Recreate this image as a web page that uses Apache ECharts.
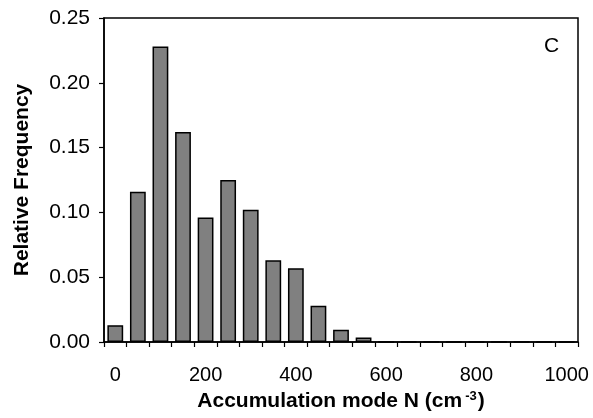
<!DOCTYPE html>
<html>
<head>
<meta charset="utf-8">
<script src="https://cdn.jsdelivr.net/npm/echarts@6/dist/echarts.min.js"></script>
<style>
  html, body { margin: 0; padding: 0; background: #fff; }
  #chart { width: 593px; height: 418px; }
</style>
</head>
<body>
<div id="chart"></div>
<script>
// Histogram bins (cm^-3), 50-wide, centred on these values
const binCenters = [0, 50, 100, 150, 200, 250, 300, 350, 400, 450, 500,
                    550, 600, 650, 700, 750, 800, 850, 900, 950, 1000];
// Relative frequency in each bin
const relFreq = [0.013, 0.116, 0.228, 0.162, 0.096, 0.125, 0.102, 0.063, 0.057, 0.028, 0.0095,
                 0.0035, 0, 0, 0, 0, 0, 0, 0, 0, 0];
const yTicks = [0, 0.05, 0.10, 0.15, 0.20, 0.25];
const panelLabel = 'C';

const font = '"Liberation Sans", Arial, sans-serif';
const chart = echarts.init(document.getElementById('chart'), null, { renderer: 'canvas' });

chart.setOption({
  animation: false,
  backgroundColor: '#fff',
  grid: {
    left: 104, right: 15, top: 18, bottom: 76,
    show: true, borderColor: '#000', borderWidth: 1.5, backgroundColor: 'transparent'
  },
  xAxis: {
    type: 'category',
    data: binCenters.map(String),
    boundaryGap: true,
    axisLine: { lineStyle: { color: '#000', width: 1.5 } },
    axisTick: { show: true, interval: 0, length: 5, lineStyle: { color: '#000', width: 1.2 } },
    axisLabel: { interval: 3, color: '#000', fontFamily: font, fontSize: 20, margin: 23 },
    splitLine: { show: false },
    name: '{a|Accumulation mode N (cm}{s|-3}{a|)}',
    nameLocation: 'middle',
    nameGap: 47,
    nameTextStyle: {
      rich: {
        a: { fontFamily: font, fontSize: 21, fontWeight: 'bold', color: '#000' },
        s: { fontFamily: font, fontSize: 13, fontWeight: 'bold', color: '#000', verticalAlign: 'top', padding: [0, 1, 10, 3] }
      }
    }
  },
  yAxis: {
    type: 'value',
    min: yTicks[0],
    max: yTicks[yTicks.length - 1],
    interval: 0.05,
    axisLine: { show: true, lineStyle: { color: '#000', width: 1.5 } },
    axisTick: { show: true, length: 5, lineStyle: { color: '#000', width: 1.2 } },
    axisLabel: {
      color: '#000', fontFamily: font, fontSize: 21, margin: 14,
      formatter: v => v.toFixed(2)
    },
    splitLine: { show: false },
    name: 'Relative Frequency',
    nameLocation: 'middle',
    nameGap: 71,
    nameTextStyle: { fontFamily: font, fontSize: 21, fontWeight: 'bold', color: '#000' }
  },
  series: [{
    type: 'bar',
    data: relFreq,
    barCategoryGap: '30%',
    itemStyle: { color: '#808080', borderColor: '#000', borderWidth: 1.5 }
  }],
  graphic: [{
    type: 'text',
    x: 544, y: 46,
    style: { text: panelLabel, fontFamily: font, fontSize: 21, fill: '#000', verticalAlign: 'middle' }
  }]
});
</script>
</body>
</html>
